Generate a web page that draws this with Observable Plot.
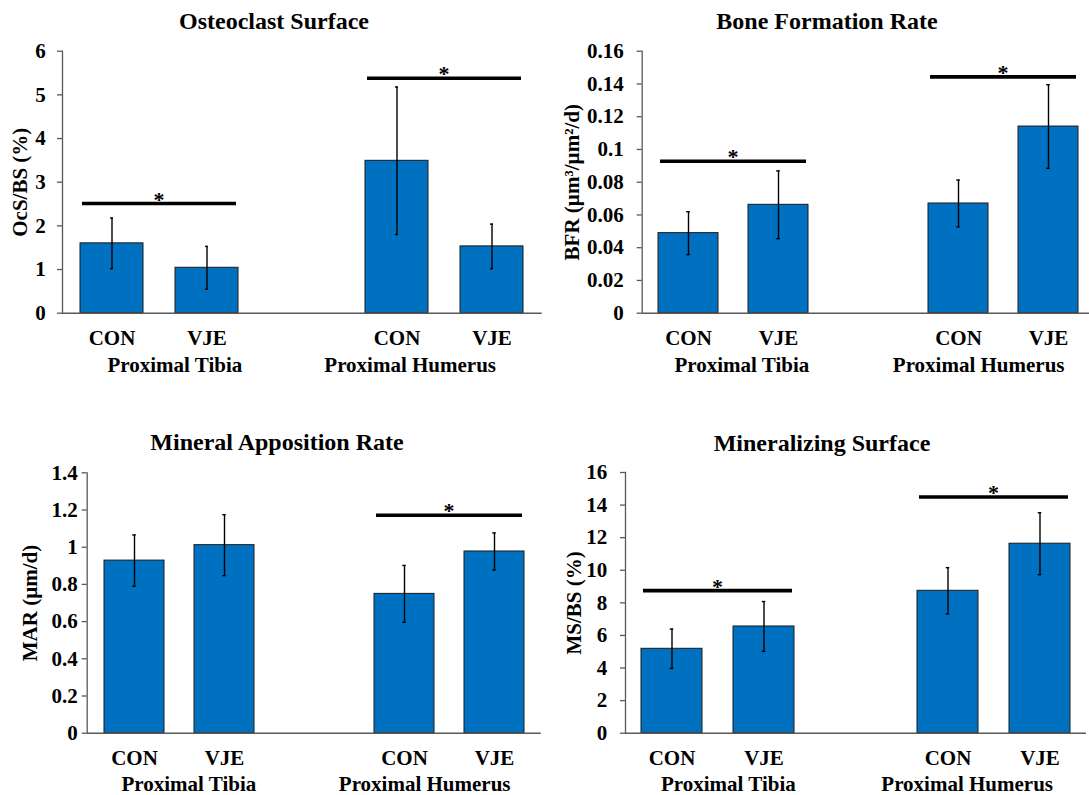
<!DOCTYPE html>
<html>
<head>
<meta charset="utf-8">
<script src="https://cdn.jsdelivr.net/npm/d3@7"></script>
<script src="https://cdn.jsdelivr.net/npm/@observablehq/plot@0.6"></script>
<style>
  html, body { margin: 0; padding: 0; background: #fff; }
  body { width: 1089px; height: 795px; overflow: hidden; position: relative; }
  .panel-title {
    position: absolute; transform: translateX(-50%); white-space: nowrap;
    font-family: "Liberation Serif", "Times New Roman", serif; font-weight: bold;
    font-size: 24px; line-height: 24px; color: #000;
  }
  .panel-svg { position: absolute; }
</style>
</head>
<body>
<div id="figure"></div>
<script>
// Categories: two sites, each with a control and a treated group
const sites = ["Proximal Tibia", "Proximal Humerus"];
const groups = ["CON", "VJE"];
// bar order: Tibia CON, Tibia VJE, Humerus CON, Humerus VJE
const barKeys = ["T-CON", "T-VJE", "H-CON", "H-VJE"];
// x slots, with an empty slot between the two sites
const slots = ["T-CON", "T-VJE", "gap", "H-CON", "H-VJE"];

// Osteoclast surface, OcS/BS (%)
const ocsMean = [1.60, 1.04, 3.49, 1.53];
const ocsErr = [0.58, 0.49, 1.69, 0.51];
const ocsSig = [2.50, 5.37];
const ocsTicks = [0, 1, 2, 3, 4, 5, 6];

// Bone formation rate, BFR (µm³/µm²/d)
const bfrMean = [0.0489, 0.0662, 0.0670, 0.1140];
const bfrErr = [0.0131, 0.0207, 0.0143, 0.0255];
const bfrSig = [0.0925, 0.1440];
const bfrTicks = [0, 0.02, 0.04, 0.06, 0.08, 0.1, 0.12, 0.14, 0.16];

// Mineral apposition rate, MAR (µm/d)
const marMean = [0.928, 1.011, 0.749, 0.977];
const marErr = [0.138, 0.164, 0.153, 0.100];
const marSig = [null, 1.169];
const marTicks = [0, 0.2, 0.4, 0.6, 0.8, 1, 1.2, 1.4];

// Mineralizing surface, MS/BS (%)
const msMean = [5.18, 6.55, 8.74, 11.63];
const msErr = [1.21, 1.53, 1.42, 1.90];
const msSig = [8.72, 14.47];
const msTicks = [0, 2, 4, 6, 8, 10, 12, 14, 16];

const FONT = "'Liberation Serif', 'Times New Roman', serif";
const BLUE = "#0070C0";
const AXIS = "#595959";

const panels = [
  {title: "Osteoclast Surface", yLabel: "OcS/BS (%)", mean: ocsMean, err: ocsErr, sig: ocsSig, ticks: ocsTicks,
   box: {left: 0, top: 40, width: 545, height: 360}, frame: {l: 62, r: 541.7, t: 50.7, b: 312.7},
   titleX: 274, titleBaseline: 29, yLabelX: 20, tickPadding: 11.7, groupDx: [-4.5, 4], groupDy: 59},
  {title: "Bone Formation Rate", yLabel: "BFR (µm³/µm²/d)", mean: bfrMean, err: bfrErr, sig: bfrSig, ticks: bfrTicks,
   box: {left: 545, top: 40, width: 555, height: 360}, frame: {l: 641.7, r: 1094, t: 50.7, b: 312.7},
   titleX: 827, titleBaseline: 29, yLabelX: 572, tickPadding: 13.4, groupDx: [-14, 16], groupDy: 59},
  {title: "Mineral Apposition Rate", yLabel: "MAR (µm/d)", mean: marMean, err: marErr, sig: marSig, ticks: marTicks,
   box: {left: 0, top: 460, width: 545, height: 335}, frame: {l: 86.7, r: 540.7, t: 472.3, b: 732.7},
   titleX: 277, titleBaseline: 450, yLabelX: 29.6, tickPadding: 4.4, groupDx: [-13, 16], groupDy: 57.5},
  {title: "Mineralizing Surface", yLabel: "MS/BS (%)", mean: msMean, err: msErr, sig: msSig, ticks: msTicks,
   box: {left: 545, top: 460, width: 555, height: 335}, frame: {l: 625, r: 1086, t: 472, b: 732.7},
   titleX: 822, titleBaseline: 451, yLabelX: 573.6, tickPadding: 13.3, groupDx: [-11, 13], groupDy: 57.5}
];

// Significance bar spanning a site's two bars, with an asterisk above it
function significance(levels) {
  return (index, scales) => {
    const {x, y} = scales;
    const g = d3.create("svg:g");
    [["T-CON", "T-VJE"], ["H-CON", "H-VJE"]].forEach(([from, to], i) => {
      const level = levels[i];
      if (level == null) return;
      const x1 = x(from) + 2;
      const x2 = x(to) + x.bandwidth() - 2;
      const yy = y(level);
      g.append("line")
        .attr("x1", x1).attr("x2", x2).attr("y1", yy).attr("y2", yy)
        .attr("stroke", "#000").attr("stroke-width", 3.6);
      g.append("text")
        .attr("x", (x1 + x2) / 2).attr("y", yy).attr("dy", 3)
        .attr("text-anchor", "middle")
        .attr("font-size", 22).attr("font-weight", "bold").attr("fill", "#000")
        .text("*");
    });
    return g.node();
  };
}

const fmt = (d) => `${+d.toFixed(3)}`;
const figure = document.getElementById("figure");

for (const p of panels) {
  const rows = barKeys.map((key, i) => ({
    key,
    site: sites[i < 2 ? 0 : 1],
    group: groups[i % 2],
    value: p.mean[i],
    err: p.err[i]
  }));

  const {box, frame} = p;
  const marginLeft = frame.l - box.left;
  const marginRight = box.left + box.width - frame.r;
  const marginTop = frame.t - box.top;
  const marginBottom = box.top + box.height - frame.b;
  const bandwidth = (frame.r - frame.l) / slots.length * (2 / 3);
  const capInset = bandwidth / 2 - 2;

  const chart = Plot.plot({
    width: box.width,
    height: box.height,
    marginLeft, marginRight, marginTop, marginBottom,
    style: {fontFamily: FONT, fontWeight: "bold", fontSize: "20px", color: "#000", background: "transparent", overflow: "visible"},
    x: {type: "band", domain: slots, paddingInner: 1 / 3, paddingOuter: 1 / 6, align: 0.5, axis: null},
    y: {domain: [0, p.ticks[p.ticks.length - 1]], axis: null},
    marks: [
      Plot.barY(rows, {x: "key", y: "value", fill: BLUE, stroke: "#1b1b1b", strokeWidth: 1}),
      Plot.ruleX(rows, {x: "key", y1: (d) => d.value - d.err, y2: (d) => d.value + d.err, stroke: "#000", strokeWidth: 1.4}),
      Plot.tickY(rows, {x: "key", y: (d) => d.value + d.err, stroke: "#000", strokeWidth: 1.4, insetLeft: capInset, insetRight: capInset}),
      Plot.tickY(rows, {x: "key", y: (d) => d.value - d.err, stroke: "#000", strokeWidth: 1.4, insetLeft: capInset, insetRight: capInset}),
      Plot.ruleY([0], {stroke: AXIS, strokeWidth: 1.5}),
      Plot.frame({anchor: "left", stroke: AXIS, strokeWidth: 1.3}),
      Plot.axisY({ticks: p.ticks, tickFormat: fmt, tickSize: 5, tickPadding: p.tickPadding, stroke: AXIS, strokeWidth: 1.3, fontSize: 21, fontWeight: "bold", label: null}),
      Plot.text([p.yLabel], {text: (d) => d, frameAnchor: "left", textAnchor: "middle", lineAnchor: "middle", rotate: -90, dx: p.yLabelX - frame.l, fontSize: 21, fontWeight: "bold", fill: "#000"}),
      Plot.text(rows, {x: "key", text: "group", frameAnchor: "bottom", lineAnchor: "bottom", dy: 32, fontSize: 21, fontWeight: "bold", fill: "#000"}),
      Plot.text(rows.filter((d) => d.key === "T-CON"), {x: "key", text: "site", frameAnchor: "bottom", lineAnchor: "bottom", textAnchor: "start", dy: p.groupDy, dx: p.groupDx[0], fontSize: 21, fontWeight: "bold", fill: "#000"}),
      Plot.text(rows.filter((d) => d.key === "H-VJE"), {x: "key", text: "site", frameAnchor: "bottom", lineAnchor: "bottom", textAnchor: "end", dy: p.groupDy, dx: p.groupDx[1], fontSize: 21, fontWeight: "bold", fill: "#000"}),
      significance(p.sig)
    ]
  });
  chart.classList.add("panel-svg");
  chart.style.left = `${box.left}px`;
  chart.style.top = `${box.top}px`;
  figure.appendChild(chart);

  const title = document.createElement("div");
  title.className = "panel-title";
  title.textContent = p.title;
  title.style.left = `${p.titleX}px`;
  title.style.top = `${p.titleBaseline - 20}px`;
  figure.appendChild(title);
}
</script>
</body>
</html>
